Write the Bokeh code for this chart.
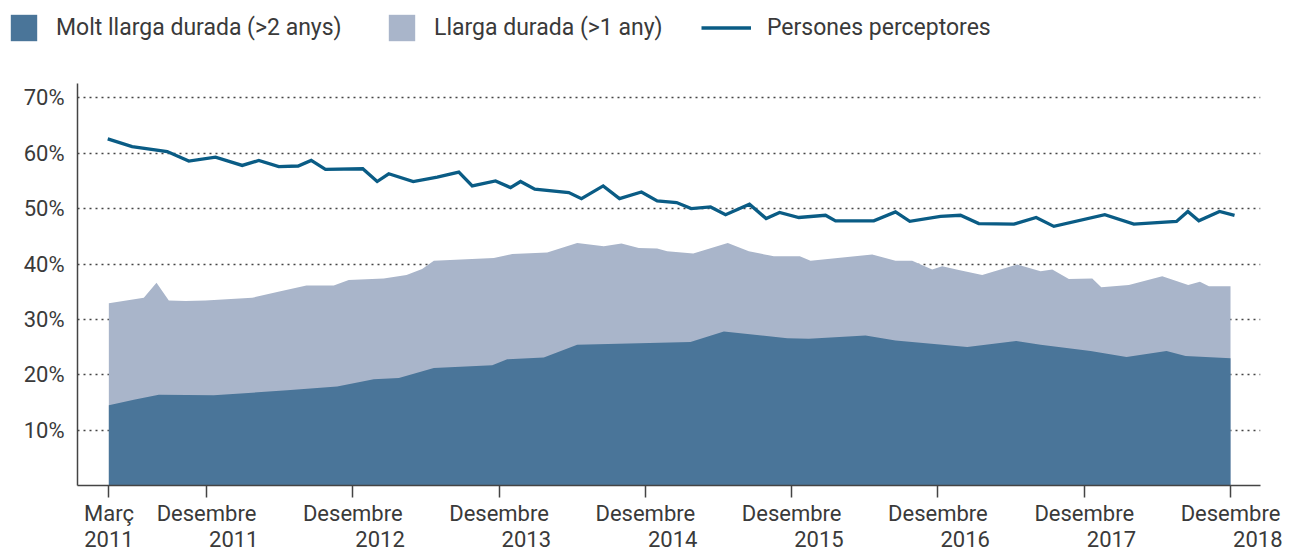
from bokeh.plotting import figure
from bokeh.models import Range1d, FixedTicker, Legend, LegendItem, PrintfTickFormatter
from bokeh.embed import file_html
from bokeh.resources import INLINE

# x positions: month index (Desembre 2011 = 11, Desembre 2018 = 95)
perceptores_x = [2.90, 4.90, 7.78, 9.55, 11.74, 13.93, 15.29, 16.93, 18.52, 19.59, 20.76, 23.82,
                 25.00, 25.95, 27.96, 29.93, 31.70, 32.80, 34.71, 35.94, 36.76, 37.93, 40.72,
                 41.76, 43.54, 44.88, 46.68, 47.97, 49.56, 50.76, 52.35, 53.58, 55.54, 56.91,
                 58.01, 59.59, 61.78, 62.60, 65.74, 67.52, 68.69, 71.21, 72.85, 74.35, 77.23,
                 79.06, 80.51, 84.69, 87.07, 90.57, 91.50, 92.40, 94.10, 95.33]
perceptores_y = [62.6, 61.2, 60.3, 58.6, 59.3, 57.8, 58.7, 57.6, 57.7, 58.7, 57.1, 57.2,
                 54.9, 56.3, 54.9, 55.7, 56.6, 54.1, 55.0, 53.8, 54.9, 53.5, 52.9,
                 51.8, 54.1, 51.8, 53.0, 51.4, 51.1, 50.0, 50.3, 48.9, 50.8, 48.2,
                 49.3, 48.4, 48.8, 47.8, 47.8, 49.4, 47.7, 48.6, 48.8, 47.3, 47.2,
                 48.4, 46.8, 48.9, 47.2, 47.7, 49.5, 47.8, 49.5, 48.8]

llarga_x = [2.99, 5.86, 6.90, 7.91, 9.28, 10.92, 14.75, 17.07, 19.20, 21.44, 22.67, 25.54,
            27.41, 28.69, 29.65, 34.57, 36.08, 38.95, 41.41, 43.59, 45.04, 46.46, 47.97,
            48.79, 50.93, 53.76, 55.49, 57.54, 59.67, 60.55, 65.61, 67.52, 68.89, 70.53,
            71.35, 72.71, 74.63, 77.50, 79.42, 80.38, 81.74, 83.66, 84.40, 86.66, 89.40,
            91.53, 92.49, 93.23, 95.00]
llarga_y = [32.9, 33.9, 36.6, 33.4, 33.3, 33.4, 33.9, 35.1, 36.1, 36.1, 37.1, 37.4,
            38.0, 39.1, 40.6, 41.1, 41.8, 42.1, 43.8, 43.2, 43.7, 42.9, 42.8,
            42.3, 41.9, 43.8, 42.3, 41.4, 41.4, 40.6, 41.7, 40.6, 40.6, 39.0,
            39.6, 38.9, 38.0, 39.9, 38.7, 39.0, 37.3, 37.4, 35.8, 36.2, 37.8,
            36.2, 36.8, 36.0, 36.0]

molt_x = [2.99, 5.04, 7.09, 11.60, 17.62, 21.72, 24.72, 26.78, 29.65, 34.44, 35.67, 38.67,
          41.41, 50.70, 53.44, 58.64, 60.41, 65.06, 67.52, 73.40, 77.42, 79.42, 83.52,
          86.47, 89.75, 91.31, 95.00]
molt_y = [14.5, 15.5, 16.4, 16.3, 17.2, 17.9, 19.2, 19.4, 21.2, 21.7, 22.8, 23.1,
          25.4, 25.9, 27.8, 26.6, 26.5, 27.1, 26.2, 25.0, 26.1, 25.4, 24.3,
          23.2, 24.3, 23.4, 23.0]

NB = "\u00a0"
x_ticks = [3, 11, 23, 35, 47, 59, 71, 83, 95]
x_tick_labels = ["Març\n2011"] + ["Desembre\n" + NB * 10 + str(y) for y in range(2011, 2019)]
y_ticks = [10, 20, 30, 40, 50, 60, 70]

series_names = ["Molt llarga durada (>2 anys)", "Llarga durada (>1 any)", "Persones perceptores"]

DARK = "#4a7599"
LIGHT = "#a9b5ca"
LINE = "#0a5c85"
TEXT = "#3a3a3a"
FONT = "Roboto"
LINE_W = 3.3

# ---------- main chart ----------
p = figure(width=1290, height=499, output_backend="svg", toolbar_location=None,
           x_range=Range1d(0.42, 97.46), y_range=Range1d(0, 72.6),
           min_border_left=77, min_border_right=30, min_border_top=28, min_border_bottom=67)
p.outline_line_color = None
p.background_fill_color = "white"

r_llarga = p.varea(x=llarga_x, y1=0, y2=llarga_y, fill_color=LIGHT)
r_molt = p.varea(x=molt_x, y1=0, y2=molt_y, fill_color=DARK)
r_line = p.line(x=perceptores_x, y=perceptores_y, line_color=LINE, line_width=LINE_W,
                line_join="miter")

p.xaxis.ticker = FixedTicker(ticks=x_ticks)
p.xaxis.major_label_overrides = {t: lab for t, lab in zip(x_ticks, x_tick_labels)}
p.xaxis.major_tick_out = 12
p.xaxis.major_tick_in = 0
p.xaxis.minor_tick_line_color = None
p.xaxis.axis_line_color = "#444444"
p.xaxis.axis_line_width = 1.5
p.xaxis.major_tick_line_color = "#444444"
p.xaxis.major_tick_line_width = 1.5
p.xaxis.major_label_standoff = 3
p.xaxis.major_label_text_font = FONT
p.xaxis.major_label_text_font_size = "22px"
p.xaxis.major_label_text_color = TEXT
p.xaxis.major_label_text_line_height = 1.04

p.yaxis.ticker = FixedTicker(ticks=y_ticks)
p.yaxis.formatter = PrintfTickFormatter(format="%d%%")
p.yaxis.major_tick_out = 0
p.yaxis.major_tick_in = 0
p.yaxis.minor_tick_line_color = None
p.yaxis.axis_line_color = "#444444"
p.yaxis.axis_line_width = 1.5
p.yaxis.major_label_standoff = 13
p.yaxis.major_label_text_font = FONT
p.yaxis.major_label_text_font_size = "22px"
p.yaxis.major_label_text_color = TEXT

p.xgrid.grid_line_color = None
p.ygrid.ticker = FixedTicker(ticks=y_ticks)
p.ygrid.grid_line_color = "#444444"
p.ygrid.grid_line_width = 1.4
p.ygrid.grid_line_dash = "2 4"

# ---------- legend strip (separate root, so its frame is the whole canvas) ----------
lf = figure(width=1290, height=55, output_backend="svg", toolbar_location=None,
            x_range=Range1d(0, 1), y_range=Range1d(0, 1), min_border=0)
lf.axis.visible = False
lf.grid.visible = False
lf.outline_line_color = None

# legend proxies: same styles, data kept outside the strip's visible range
g_molt = lf.varea(x=[5, 6], y1=[5, 5], y2=[6, 6], fill_color=DARK)
g_llarga = lf.varea(x=[5, 6], y1=[5, 5], y2=[6, 6], fill_color=LIGHT)
g_line = lf.line(x=[5, 6], y=[5, 5], line_color=LINE, line_width=LINE_W)

def make_legend(label, renderer, loc, gw):
    lg = Legend(items=[LegendItem(label=label, renderers=[renderer])], location=loc,
                glyph_width=gw, glyph_height=33, label_standoff=16, padding=0, margin=0,
                border_line_color=None, background_fill_alpha=0,
                label_text_font=FONT, label_text_font_size="23px", label_text_color=TEXT,
                label_height=33)
    lf.add_layout(lg, "center")

make_legend(series_names[0], g_molt, (7, 11), 33)
make_legend(series_names[1], g_llarga, (385, 11), 33)
make_legend(series_names[2], g_line, (701, 11), 50)

open("out.html", "w").write(file_html([lf, p], INLINE))
